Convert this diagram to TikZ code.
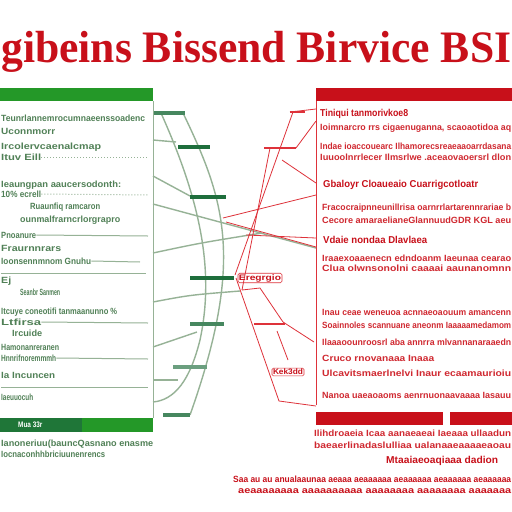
\documentclass[tikz,border=0pt]{standalone}
\usepackage{fontspec}
\usepackage{graphicx}
\setmainfont{Liberation Serif}
\newfontfamily\cond[FakeStretch=0.8]{Liberation Sans}
\definecolor{gbar}{RGB}{36,152,40}
\definecolor{gdark}{RGB}{30,110,60}
\definecolor{gmid}{RGB}{70,135,95}
\definecolor{gtxt}{RGB}{80,128,86}
\definecolor{gline}{RGB}{150,178,150}
\definecolor{rbar}{RGB}{200,16,26}
\definecolor{rtxt}{RGB}{208,40,48}
\definecolor{rline}{RGB}{222,50,58}
\newcommand{\tw}[2]{\resizebox{#1pt}{\height}{#2}}
\tikzset{
  gt/.style={anchor=west,inner sep=0pt,text=gtxt,font=\cond\bfseries\fontsize{9}{9}\selectfont},
  rt/.style={anchor=west,inner sep=0pt,text=rtxt,font=\cond\bfseries\fontsize{9}{9}\selectfont},
  rh/.style={anchor=west,inner sep=0pt,text=rbar,font=\cond\bfseries\fontsize{10}{10}\selectfont},
  gcurve/.style={draw=gline,line width=1.4pt},
  rcon/.style={draw=rline,line width=0.8pt},
  gbarsm/.style={line width=4.5pt},
  rule/.style={draw=gline,line width=1pt},
  rlab/.style={inner sep=1pt,draw=rline,rounded corners=1.5pt,line width=0.6pt,text=rbar,font=\cond\bfseries\fontsize{8}{8}\selectfont}
}
\begin{document}
\begin{tikzpicture}[x=1pt,y=-1pt]
\useasboundingbox (0,0) rectangle (512,512);
\fill[white] (0,0) rectangle (512,512);
% title
\node[anchor=base west,inner sep=0pt,text=rbar,font=\bfseries\fontsize{45}{45}\selectfont] (title) at (1,62) {\tw{510}{gibeins Bissend Birvice BSI}};
% left panel
\fill[gbar] (0,88) rectangle (153,101);
\draw[gline,line width=0.8pt] (153,101) -- (153,418);
\fill[gdark!80!gbar] (0,418) rectangle (82,432);
\fill[gbar] (82,418) rectangle (153,432);
\node[anchor=west,inner sep=0pt,text=white,font=\cond\bfseries\fontsize{8}{8}\selectfont] (lbar) at (18,425) {Mua 33r};
% left texts
\node[gt] (l1) at (1,118) {\tw{144}{Teunrlannemrocumnaeenssoadenc}};
\node[gt] (l2) at (1,131) {\tw{54}{Uconnmorr}};
\node[gt] (l3) at (1,147) {\tw{100}{Ircolervcaenalcmap}};
\node[gt] (l4) at (1,157) {\tw{40}{Ituv Eill}};
\draw[rule,dotted] (l4.east) -- (148,157);
\node[gt] (l5) at (1,185) {\tw{120}{Ieaungpan aaucersodonth:}};
\node[gt] (l6) at (1,194) {\tw{40}{10\% ecrell}};
\draw[rule,dotted] (l6.east) -- (148,195);
\node[gt] (l7) at (30,207) {\tw{70}{Ruaunfiq ramcaron}};
\node[gt] (l8) at (20,220) {\tw{100}{ounmalfrarncrlorgrapro}};
\node[gt] (l9) at (1,235) {\tw{35}{Pnoanure}};
\draw[rule] (l9.east) -- (148,236);
\node[gt] (l10) at (1,248) {\tw{60}{Fraurnnrars}};
\node[gt] (l11) at (1,261) {\tw{90}{Ioonsennmnom Gnuhu}};
\draw[rule] (l11.east) -- (140,262);
\coordinate (r1a) at (1,273);
\coordinate (r1b) at (146,273);
\draw[rule] (r1a) -- (r1b);
\node[gt] (l12) at (1,281) {\tw{10}{Ej}};
\node[gt] (l13) at (20,292) {\tw{40}{Seanbr Sanmen}};
\node[gt] (l14) at (1,312) {\tw{116}{Itcuye coneotifi tanmaanunno \%}};
\node[gt] (l15) at (1,322) {\tw{40}{Ltfirsa}};
\draw[rule] (l15.east) -- (148,323);
\node[gt] (l16) at (12,333) {\tw{30}{Ircuide}};
\node[gt] (l17) at (1,347) {\tw{58}{Hamonanreranen}};
\node[gt] (l18) at (1,358) {\tw{55}{Hnnrifnoremmmh}};
\draw[rule] (l18.east) -- (148,359);
\node[gt] (l19) at (1,375) {\tw{54}{Ia Incuncen}};
\coordinate (r2a) at (1,387);
\coordinate (r2b) at (148,387);
\draw[rule] (r2a) -- (r2b);
\node[gt] (l20) at (1,397) {\tw{32}{Iaeuuocuh}};
\node[gt] (l21) at (1,444) {\tw{152}{Ianoneriuu(bauncQasnano enasme}};
\node[gt] (l22) at (1,454) {\tw{104}{Iocnaconhhbriciuunenrencs}};
% right panel
\fill[rbar] (316,88) rectangle (512,101);
\draw[rline,line width=0.8pt] (316,101) -- (316,405);
\fill[rbar] (316,412) rectangle (443,425);
\fill[rbar] (450,412) rectangle (512,425);
\node[rh] (t1) at (320,114) {\tw{88}{Tiniqui tanmorivkoe8}};
\node[rt] (t2) at (320,128) {\tw{191}{Ioimnarcro rrs cigaenuganna, scaoaotidoa aq}};
\node[rt] (t3) at (320,146) {\tw{191}{Indae ioaccouearc Ilhamorecsreaeaaoarrdasana}};
\node[rt] (t4) at (320,157) {\tw{191}{Iuuoolnrrlecer Ilmsrlwe .aceaovaoersrl dlon}};
\node[rh] (t5) at (323,185) {\tw{155}{Gbaloyr Cloaueaio Cuarrigcotloatr}};
\node[rt] (t6) at (322,208) {\tw{189}{Fracocraipnneunillrisa oarnrrlartarennrariae b}};
\node[rt] (t7) at (322,220) {\tw{189}{Cecore amaraelianeGlannuudGDR KGL aeu}};
\node[rh] (t8) at (323,240) {\tw{104}{Vdaie nondaa Dlavlaea}};
\node[rt] (t9) at (322,258) {\tw{189}{Iraaexoaaenecn edndoanm Iaeunaa cearao}};
\node[rt] (t10) at (322,268) {\tw{189}{Clua olwnsonolni caaaai aaunanomnn}};
\node[rt] (t11) at (322,312) {\tw{189}{Inau ceae weneuoa acnnaeoaouum amancenn}};
\node[rt] (t12) at (322,325) {\tw{189}{Soainnoles scannuane aneonm Iaaaaamedamom}};
\node[rt] (t13) at (322,342) {\tw{189}{Ilaaaoounroosrl aba annrra mlvannanaraaedn}};
\node[rt] (t14) at (322,358) {\tw{112}{Cruco rnovanaaa Inaaa}};
\node[rt] (t15) at (322,373) {\tw{189}{Ulcavitsmaerlnelvi Inaur ecaamaurioiu}};
\node[rt] (t16) at (322,395) {\tw{189}{Nanoa uaeaoaoms aenrnuonaavaaaa Iasauu}};
\node[rt] (t17) at (314,433) {\tw{197}{Ilihdroaeia Icaa aanaeaeai Iaeaaa ullaadun}};
\node[rt] (t18) at (314,445) {\tw{197}{baeaerlinadaslulliaa ualanaaeaaaaeaoau}};
\node[rh] (t19) at (386,461) {\tw{112}{Mtaaiaeoaqiaaa dadion}};
\node[rt,text=rbar] (t20) at (233,479) {\tw{278}{Saa au au anualaaunaa aeaaa aeaaaaaa aeaaaaaa aeaaaaaa aeaaaaaa}};
\node[rt,text=rbar] (t21) at (238,491) {\tw{273}{aeaaaaaaaa aaaaaaaaaa aaaaaaaa aaaaaaaa aaaaaaa}};
% green connectors
\coordinate (gA1) at (161,113);
\coordinate (gA2) at (153,402);
\draw[gcurve] (gA1) .. controls (200,200) and (215,270) .. (200,340) .. controls (190,380) and (175,400) .. (gA2);
\coordinate (gB1) at (183,113);
\coordinate (gB2) at (190,415);
\draw[gcurve] (gB1) .. controls (225,200) and (245,260) .. (gB2);
\coordinate (e1) at (153,140); \coordinate (f1) at (176,142);
\coordinate (e2) at (153,176); \coordinate (f2) at (190,196);
\coordinate (e3) at (153,204); \coordinate (f3) at (316,248);
\coordinate (e4) at (153,253); \coordinate (f4) at (262,233);
\coordinate (e5) at (153,302); \coordinate (f5) at (240,291);
\coordinate (e6) at (153,347); \coordinate (f6) at (197,332);
\coordinate (e7) at (153,380); \coordinate (f7) at (178,380);
\draw[gcurve] (e1) -- (f1);
\draw[gcurve] (e2) -- (f2);
\draw[gcurve] (e3) -- (f3);
\draw[gcurve] (e4) .. controls (200,243) .. (f4);
\draw[gcurve] (e5) .. controls (190,295) .. (f5);
\draw[gcurve] (e6) -- (f6);
\draw[gcurve] (e7) -- (f7);
% green bars
\draw[gbarsm,gmid] (154,113) -- (185,113);
\draw[gbarsm,gdark] (178,147) -- (210,147);
\draw[gbarsm,gdark] (190,197) -- (226,197);
\draw[gbarsm,gdark] (190,278) -- (234,278);
\draw[gbarsm,gmid] (190,324) -- (224,324);
\draw[gbarsm,gmid!80!white] (173,367) -- (207,367);
\draw[gbarsm,gmid] (163,415) -- (190,415);
% red connectors
\coordinate (p1) at (290,112); \coordinate (q1) at (316,109);
\draw[rcon,line width=1.4pt] (p1) -- (305,112);
\draw[rcon] (p1) -- (q1);
\coordinate (p2) at (264,148); \coordinate (q2) at (296,148);
\draw[rcon,line width=1.4pt] (p2) -- (q2);
\coordinate (q2b) at (316,121);
\draw[rcon] (q2) -- (q2b);
\coordinate (v1) at (235,275);
\draw[rcon] (293,112) -- (v1);
\coordinate (v2) at (242,290);
\draw[rcon] (270,148) -- (v2);
\coordinate (s3) at (282,160); \coordinate (q3) at (316,183);
\draw[rcon] (s3) -- (q3);
\coordinate (s4) at (223,218); \coordinate (q4) at (316,195);
\draw[rcon] (q4) -- (s4);
\coordinate (s5) at (226,222); \coordinate (q5) at (316,247);
\draw[rcon] (s5) -- (q5);
\coordinate (s6) at (246,235); \coordinate (q6) at (316,238);
\draw[rcon] (s6) -- (q6);
\node[rlab] (lab1) at (260,278) {\tw{42}{Eregrgio}};
\coordinate (w1) at (236,278); \coordinate (w2) at (279,401); \coordinate (q7) at (316,406);
\draw[rcon] (w1) -- (w2) -- (q7);
\coordinate (w3) at (260,288); \coordinate (w4) at (283,322);
\draw[rcon] (v2) -- (w3) -- (w4);
\draw[rcon,line width=1.6pt] (254,324) -- (285,324);
\coordinate (q8) at (314,342);
\draw[rcon] (w4) -- (q8);
\coordinate (w5) at (277,331); \coordinate (w6) at (288,360);
\draw[rcon] (w5) -- (w6);
\node[rlab] (lab2) at (288,372) {\tw{30}{Kek3dd}};
\end{tikzpicture}
\end{document}
